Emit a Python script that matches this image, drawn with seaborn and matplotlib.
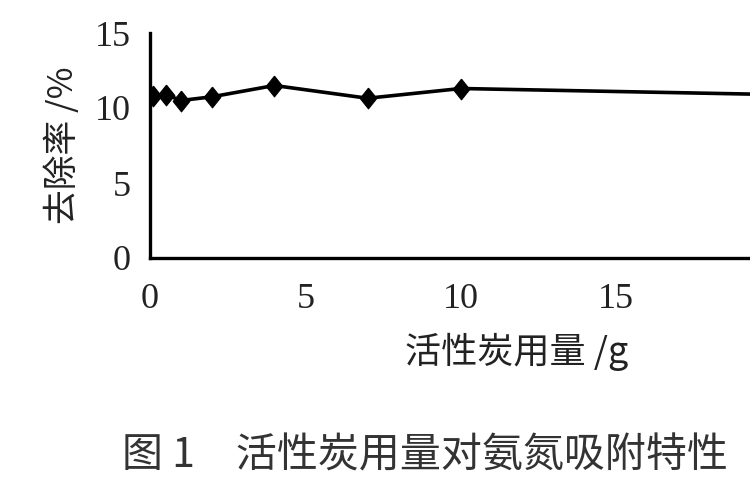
import numpy as np
import pandas as pd
import seaborn as sns
import matplotlib.pyplot as plt

# activated carbon dose (g) vs. ammonia nitrogen removal (%)
dose_g = [0.1, 0.5, 1.0, 2.0, 4.0, 7.0, 10.0, 20.0]
removal_pct = [10.8, 10.9, 10.5, 10.75, 11.5, 10.65, 11.3, 10.9]

x_ticks = [0, 5, 10, 15]
y_ticks = [0, 5, 10, 15]

x_label = "活性炭用量 /g"
y_label = "去除率 /%"
caption = "图 1　活性炭用量对氨氮吸附特性"

sns.set_theme(style="white")
plt.rcParams["font.family"] = ["Noto Sans CJK SC", "DejaVu Sans"]

df = pd.DataFrame({"dose": dose_g, "removal": removal_pct})

fig = plt.figure(figsize=(7.5, 5), dpi=100)
# axes run past the right edge, like the cropped original
ax = fig.add_axes([0.2, 0.484, 0.829, 0.45])

diamond = [(0, 1), (0.8, 0), (0, -1), (-0.8, 0), (0, 1)]
sns.lineplot(data=df, x="dose", y="removal", ax=ax, color="black",
             linewidth=2.6, marker=diamond, markersize=15,
             markeredgecolor="black", markerfacecolor="black")

ax.set_xlim(0, 20)
ax.set_ylim(0, 15)
ax.set_xticks(x_ticks)
ax.set_yticks(y_ticks)
ax.set_xlabel("")
ax.set_ylabel("")

for side in ["top", "right"]:
    ax.spines[side].set_visible(False)
for side in ["left", "bottom"]:
    ax.spines[side].set_linewidth(2.4)
    ax.spines[side].set_color("black")

ax.tick_params(axis="both", direction="in", length=7, width=2.4,
               colors="black", labelcolor="#222222")
ax.tick_params(axis="x", pad=18)
ax.tick_params(axis="y", pad=14)
for lab in ax.get_xticklabels() + ax.get_yticklabels():
    lab.set_family("Liberation Serif")
    lab.set_fontsize(26)

fig.text(517 / 750, 1 - 352 / 500, x_label, ha="center", va="center",
         fontsize=26, color="#222222", fontweight="medium",
         family=["Noto Sans CJK SC", "Liberation Serif"])
fig.text(63 / 750, 1 - 145 / 500, y_label, ha="center", va="center",
         rotation=90, fontsize=25, color="#222222", fontweight="medium",
         family=["Noto Sans CJK SC", "Liberation Serif"])
fig.text(122 / 750, 1 - 456 / 500, caption, ha="left", va="center",
         fontsize=29.5, color="#333333", fontweight="light",
         family=["Noto Sans CJK SC", "Liberation Serif"])

fig.savefig("out.png", dpi=100, facecolor="white")
